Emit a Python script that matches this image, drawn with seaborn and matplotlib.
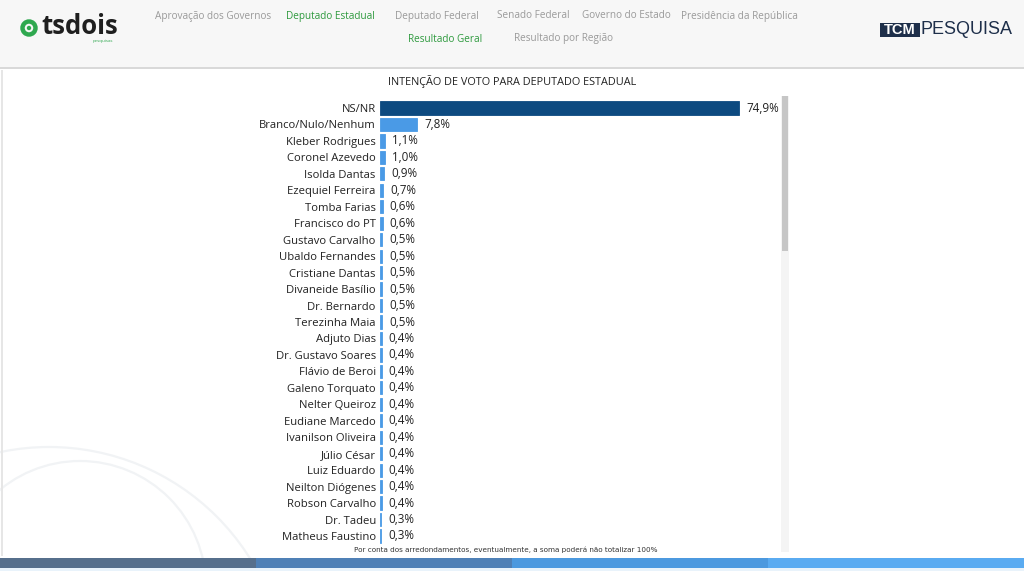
import matplotlib
matplotlib.use("Agg")
import matplotlib.pyplot as plt
import seaborn as sns
import pandas as pd
from matplotlib.patches import Rectangle, Circle

names = ["NS/NR", "Branco/Nulo/Nenhum", "Kleber Rodrigues", "Coronel Azevedo", "Isolda Dantas",
         "Ezequiel Ferreira", "Tomba Farias", "Francisco do PT", "Gustavo Carvalho", "Ubaldo Fernandes",
         "Cristiane Dantas", "Divaneide Basílio", "Dr. Bernardo", "Terezinha Maia", "Adjuto Dias",
         "Dr. Gustavo Soares", "Flávio de Beroi", "Galeno Torquato", "Nelter Queiroz", "Eudiane Marcedo",
         "Ivanilson Oliveira", "Júlio César", "Luiz Eduardo", "Neilton Diógenes", "Robson Carvalho",
         "Dr. Tadeu", "Matheus Faustino"]
values = [74.9, 7.8, 1.1, 1.0, 0.9, 0.7, 0.6, 0.6, 0.5, 0.5, 0.5, 0.5, 0.5, 0.5, 0.4,
          0.4, 0.4, 0.4, 0.4, 0.4, 0.4, 0.4, 0.4, 0.4, 0.4, 0.3, 0.3]
title = "INTENÇÃO DE VOTO PARA DEPUTADO ESTADUAL"
footnote = "Por conta dos arredondamentos, eventualmente, a soma poderá não totalizar 100%"
nav_row1 = ["Aprovação dos Governos", "Deputado Estadual", "Deputado Federal", "Senado Federal",
            "Governo do Estado", "Presidência da República"]
nav_row2 = ["Resultado Geral", "Resultado por Região"]

sns.set_theme(style="white")
plt.rcParams['font.family'] = ['Open Sans', 'DejaVu Sans']

W, H = 1024, 571
fig = plt.figure(figsize=(W / 100, H / 100), dpi=100)
fig.patch.set_facecolor("white")

def fx(px):
    return px / W

def fy(py):
    return 1 - py / H

def pcircle(cx, cy, r, **kw):
    # circle in pixel units (inches * 100)
    return Circle((cx / 100, (H - cy) / 100), r / 100, transform=fig.dpi_scale_trans, **kw)

# header background
fig.add_artist(Rectangle((0, fy(67)), 1, 67 / H, transform=fig.transFigure,
                         facecolor="#f7f7f7", edgecolor="none", zorder=0))
fig.add_artist(Rectangle((0, fy(69)), 1, 2 / H, transform=fig.transFigure,
                         facecolor="#d9d9d9", edgecolor="none", zorder=0))

# faint decorative arcs bottom-left
for cx, cy, r in [(49, 684, 237), (80, 587, 126)]:
    fig.add_artist(pcircle(cx, cy, r, fill=False, edgecolor="#f1f3f5", linewidth=1.6, zorder=0))
fig.add_artist(Rectangle((fx(1), fy(556)), 1.5 / W, (556 - 70) / H, transform=fig.transFigure,
                         facecolor="#e6e6e6", edgecolor="none", zorder=0))

# logo tsdois
fig.add_artist(pcircle(29, 28, 6.5, fill=False, edgecolor="#2fa84f", linewidth=3.2))
fig.add_artist(pcircle(29, 28, 2.2, fill=True, facecolor="#2fa84f", edgecolor="none"))
fig.text(fx(41), fy(27), "tsdois", fontsize=18.5, color="#1f1f1f", ha="left", va="center",
         fontweight="bold")
fig.text(fx(113), fy(41), "pesquisas", fontsize=3.2, color="#2fa84f", ha="right", va="center")

# nav
nav1_x = [155, 286, 395, 497, 582, 681]
for i, (t, x) in enumerate(zip(nav_row1, nav1_x)):
    fig.text(fx(x), fy(16), t, fontsize=7.2, ha="left", va="center",
             color="#2e9a3e" if i == 1 else "#9a9a9a")
nav2_x = [408, 514]
for i, (t, x) in enumerate(zip(nav_row2, nav2_x)):
    fig.text(fx(x), fy(39), t, fontsize=7.2, ha="left", va="center",
             color="#2e9a3e" if i == 0 else "#9a9a9a")

# TCM logo
fig.add_artist(Rectangle((fx(880), fy(37)), 40 / W, 14 / H, transform=fig.transFigure,
                         facecolor="#1e2f4a", edgecolor="none"))
fig.text(fx(900), fy(30), "TCM", fontsize=10.5, color="white", ha="center", va="center",
         fontweight="bold", family=["Liberation Sans", "DejaVu Sans"])
fig.text(fx(920), fy(30), "PESQUISA", fontsize=13, color="#1e2f4a", ha="left", va="center",
         family=["Liberation Sans", "DejaVu Sans"])

# title
fig.text(fx(512), fy(82), title, fontsize=7.8, color="#222222", ha="center", va="center")

# bottom stripe
stripe_cols = ["#566f8c", "#4f80b6", "#4c99df", "#5aabf1"]
for i, c in enumerate(stripe_cols):
    fig.add_artist(Rectangle((i * 0.25, fy(568)), 0.25, 10 / H, transform=fig.transFigure,
                             facecolor=c, edgecolor="none"))
fig.add_artist(Rectangle((0, 0), 1, 3 / H, transform=fig.transFigure,
                         facecolor="#e9f3fb", edgecolor="none"))

# footnote
fig.text(fx(506), fy(550), footnote, fontsize=5.2, color="#333333", ha="center", va="center",
         family=["Liberation Sans Narrow", "DejaVu Sans"])

# scrollbar
fig.add_artist(Rectangle((fx(781), fy(552)), 8 / W, (552 - 96) / H, transform=fig.transFigure,
                         facecolor="#f4f4f4", edgecolor="none"))
fig.add_artist(Rectangle((fx(782), fy(251)), 6 / W, (251 - 96) / H, transform=fig.transFigure,
                         facecolor="#c6c6c6", edgecolor="none"))

# chart
top_px = 108 - 8.23
bot_px = 536 + 8.23
ax = fig.add_axes([fx(380), fy(bot_px), 400 / W, (bot_px - top_px) / H])
df = pd.DataFrame({"name": names, "value": values})
palette = {n: ("#0d4a80" if i == 0 else "#4a9ae6") for i, n in enumerate(names)}
sns.barplot(data=df, x="value", y="name", hue="name", palette=palette, legend=False,
            orient="h", width=0.8, ax=ax, saturation=1)
ax.set_xlim(0, 400 / (359 / 74.9))
ax.set_ylim(len(names) - 0.5, -0.5)
for s in ax.spines.values():
    s.set_visible(False)
ax.set_xticks([])
ax.set_xlabel("")
ax.set_ylabel("")
ax.tick_params(axis="y", length=0, pad=3, labelsize=8.1, labelcolor="#222222")
ax.set_facecolor("none")
for cont in ax.containers:
    for bar in cont:
        bar.set_edgecolor(bar.get_facecolor())
        bar.set_linewidth(0.6)
    labels = [f"{v:.1f}".replace(".", ",") + "%" for v in cont.datavalues]
    ax.bar_label(cont, labels=labels, padding=5, fontsize=8.4, color="#222222")

fig.savefig("out.png", dpi=100, facecolor="white")
